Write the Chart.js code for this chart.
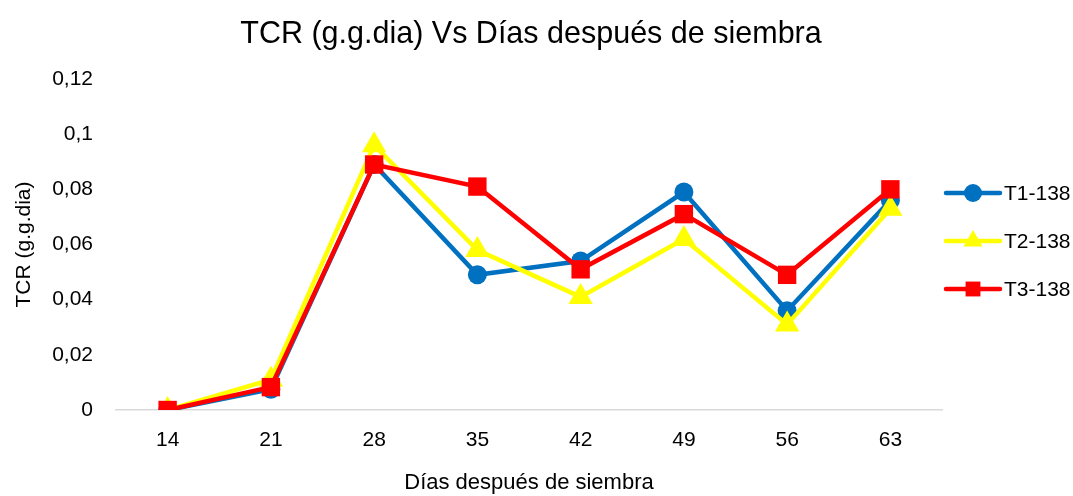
<!DOCTYPE html>
<html>
<head>
<meta charset="utf-8">
<script src="https://cdn.jsdelivr.net/npm/chart.js@4"></script>
<style>
  html, body { margin: 0; padding: 0; background: #fff; }
  #wrap { width: 1073px; height: 496px; }
</style>
</head>
<body>
<div id="wrap"><canvas id="tcrChart" width="1073" height="496"></canvas></div>
<script>
const dias = ['14', '21', '28', '35', '42', '49', '56', '63'];
const t1 = [0, 0.0075, 0.089, 0.049, 0.054, 0.079, 0.036, 0.076];
const t2 = [0, 0.011, 0.096, 0.058, 0.041, 0.062, 0.031, 0.073];
const t3 = [0, 0.0083, 0.089, 0.081, 0.051, 0.071, 0.049, 0.080];
const yTicks = [0, 0.02, 0.04, 0.06, 0.08, 0.1, 0.12];
const titulo = 'TCR (g.g.dia) Vs Días después de siembra';

const FONT = "'Liberation Sans', Arial, sans-serif";

// titulo centrado en todo el lienzo + leyenda a la derecha con linea + marcador
const sideLegend = {
  id: 'sideLegend',
  afterDraw(chart) {
    const ctx = chart.ctx;
    ctx.save();
    ctx.fillStyle = '#000';
    ctx.font = '30.5px ' + FONT;
    ctx.textAlign = 'center';
    ctx.textBaseline = 'middle';
    ctx.fillText(titulo, 531, 35);
    ctx.restore();

    const rows = [193, 241, 289];
    const sizes = { circle: 9, triangle: 11, rect: 10.5 };
    chart.data.datasets.forEach((ds, i) => {
      const y = rows[i];
      ctx.save();
      ctx.strokeStyle = ds.borderColor;
      ctx.lineWidth = 4.5;
      ctx.lineCap = 'round';
      ctx.beginPath();
      ctx.moveTo(946, y);
      ctx.lineTo(1000, y);
      ctx.stroke();
      ctx.fillStyle = ds.backgroundColor;
      Chart.helpers.drawPoint(ctx, {
        pointStyle: ds.pointStyle,
        radius: sizes[ds.pointStyle],
        borderWidth: 0
      }, 973, y);
      ctx.fillStyle = '#000';
      ctx.font = '21px ' + FONT;
      ctx.textAlign = 'left';
      ctx.textBaseline = 'middle';
      ctx.fillText(ds.label, 1004, y + 1);
      ctx.restore();
    });
  }
};

const ctx = document.getElementById('tcrChart').getContext('2d');
const tcrChart = new Chart(ctx, {
  type: 'line',
  data: {
    labels: dias,
    datasets: [{
      label: 'T1-138',
      data: t1,
      borderColor: '#0070c0',
      backgroundColor: '#0070c0',
      pointStyle: 'circle',
      pointRadius: 9.5,
      order: 3
    }, {
      label: 'T2-138',
      data: t2,
      borderColor: '#ffff00',
      backgroundColor: '#ffff00',
      pointStyle: 'triangle',
      pointRadius: 14,
      order: 2
    }, {
      label: 'T3-138',
      data: t3,
      borderColor: '#ff0000',
      backgroundColor: '#ff0000',
      pointStyle: 'rect',
      pointRadius: 13,
      order: 1
    }]
  },
  options: {
    responsive: false,
    animation: false,
    layout: { padding: { left: 0, right: 131, top: 79, bottom: 0 } },
    elements: {
      line: { borderWidth: 4.5, tension: 0 },
      point: { borderWidth: 0, hoverRadius: 10 }
    },
    scales: {
      x: {
        offset: true,
        afterFit(axis) { axis.height = 86; },
        grid: { display: false },
        border: { color: '#d9d9d9', width: 1.5 },
        ticks: { color: '#000', font: { family: FONT, size: 21 }, padding: 10 },
        title: {
          display: true,
          text: 'Días después de siembra',
          color: '#000',
          font: { family: FONT, size: 22 },
          padding: { top: 0, bottom: 0 }
        }
      },
      y: {
        min: 0,
        max: 0.12,
        afterFit(axis) { axis.width = 116; },
        afterBuildTicks(axis) {
          axis.ticks = yTicks.map(v => ({ value: v }));
        },
        grid: { display: false },
        border: { display: false },
        ticks: {
          color: '#000',
          font: { family: FONT, size: 21 },
          padding: 15,
          callback: v => String(+v.toFixed(2)).replace('.', ',')
        },
        title: {
          display: true,
          text: 'TCR (g.g.dia)',
          color: '#000',
          font: { family: FONT, size: 21 },
          padding: { top: 12, bottom: 0 }
        }
      }
    },
    plugins: {
      legend: { display: false },
      tooltip: { enabled: false },
      title: { display: false }
    }
  },
  plugins: [sideLegend]
});
</script>
</body>
</html>
